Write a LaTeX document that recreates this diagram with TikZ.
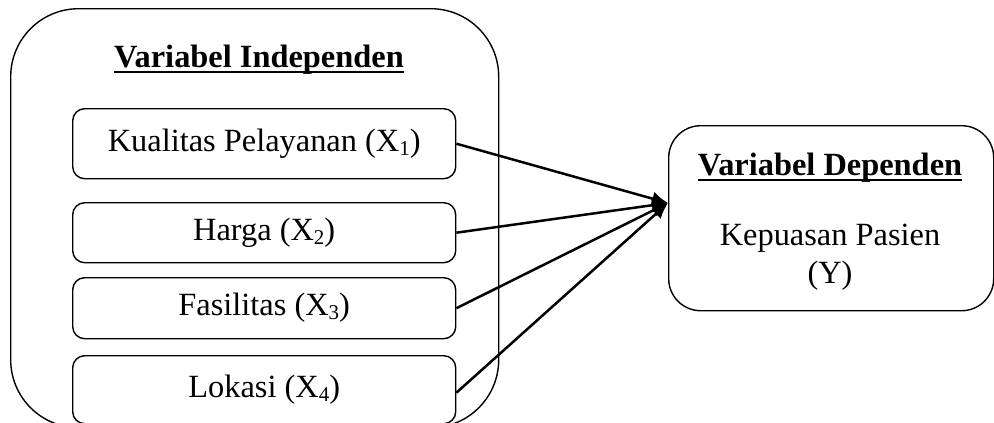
\documentclass[tikz,border=0pt]{standalone}
\usepackage{fontspec}
\setmainfont{Liberation Serif}
\usetikzlibrary{arrows.meta}
\newcommand{\sbs}[1]{\raisebox{-0.12em}{\fontsize{21}{21}\selectfont #1}}
\begin{document}
\begin{tikzpicture}[x=1pt,y=-1pt,
  every node/.style={font=\fontsize{32.4}{36}\selectfont},
  box/.style={draw, line width=1.4pt, rounded corners=12pt, minimum width=383pt, anchor=north west, inner sep=0pt},
  heading/.style={font=\fontsize{32.4}{36}\selectfont\bfseries, inner sep=0pt, anchor=base},
  uline/.style={line width=2.4pt},
  arr/.style={line width=2.5pt, -{Latex[length=16pt,width=14pt]}}
]
\useasboundingbox (0,0) rectangle (994,423);
\clip (0,0) rectangle (994,423);

% outer group of independent variables
\node[draw, line width=1.4pt, rounded corners=68pt, minimum width=488pt, minimum height=419pt, anchor=north west, inner sep=0pt] (outer) at (10,8) {};
\node[heading] (ttl) at (259,67) {Variabel Independen};
\draw[uline] ([yshift=-5pt]ttl.base west) -- ([yshift=-5pt]ttl.base east);

% the four independent variables
\node[box, minimum height=70pt] (k1) at (72,108) {Kualitas Pelayanan (X\sbs{1})};
\node[box, minimum height=60pt] (k2) at (72,202) {Harga (X\sbs{2})};
\node[box, minimum height=61pt] (k3) at (72,277) {Fasilitas (X\sbs{3})};
\node[box, minimum height=68pt] (k4) at (72,355) {Lokasi (X\sbs{4})};

% dependent variable
\node[draw, line width=1.4pt, rounded corners=32pt, minimum width=325pt, minimum height=185pt, anchor=north west, inner sep=0pt] (dep) at (668,125) {};
\node[heading] (dttl) at (830,175) {Variabel Dependen};
\draw[uline] ([yshift=-5pt]dttl.base west) -- ([yshift=-5pt]dttl.base east);
\node[anchor=base, inner sep=0pt] (dtxt1) at (830,245) {Kepuasan Pasien};
\node[anchor=base, inner sep=0pt] (dtxt2) at (830,283) {(Y)};

% converging arrows
\coordinate (tip) at (668,203);
\draw[arr] (k1.east) -- (tip);
\draw[arr] (k2.east) -- (tip);
\draw[arr] (k3.east) -- (tip);
\draw[arr] ([yshift=-3pt]k4.east) -- (tip);
\end{tikzpicture}
\end{document}
